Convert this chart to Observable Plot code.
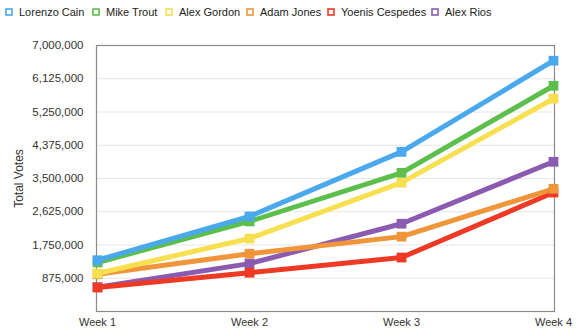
<!DOCTYPE html>
<html><head><meta charset="utf-8">
<script src="https://cdn.jsdelivr.net/npm/d3@7"></script>
<script src="https://cdn.jsdelivr.net/npm/@observablehq/plot@0.6"></script>
<style>
body{margin:0;background:#fff;font-family:"Liberation Sans",Arial,Helvetica,sans-serif;}
#legend{position:relative;height:24px;font-size:11px;color:#222;}
#legend .item{position:absolute;top:0;height:24px;display:flex;align-items:center;white-space:nowrap;}
#legend svg{margin-right:6px;}
</style></head><body>
<div id="legend"></div>
<div id="chart"></div>
<script>
const weeks = ["Week 1","Week 2","Week 3","Week 4"];
const players = ["Lorenzo Cain","Mike Trout","Alex Gordon","Adam Jones","Yoenis Cespedes","Alex Rios"];
const colors = ["#4aa8ec","#5cbf4b","#f7df4f","#f0953a","#ee3a24","#8a5bb0"];
const lorenzoCain = [1350000,2500000,4200000,6600000];
const mikeTrout = [1290000,2370000,3650000,5940000];
const alexGordon = [1000000,1920000,3390000,5600000];
const adamJones = [980000,1520000,1970000,3230000];
const yoenisCespedes = [630000,1020000,1420000,3130000];
const alexRios = [640000,1260000,2310000,3940000];
const yTicks = [875000,1750000,2625000,3500000,4375000,5250000,6125000,7000000];

const series = [lorenzoCain,mikeTrout,alexGordon,adamJones,yoenisCespedes,alexRios];
const data = [];
// draw in reverse legend order so Lorenzo Cain is on top
for (let s = series.length - 1; s >= 0; s--) {
  weeks.forEach((w, i) => data.push({player: players[s], week: w, votes: series[s][i]}));
}

// legend layout (pixel offsets of each legend entry)
const legendLeft = [5, 92, 165, 246, 327, 431];
const legend = document.getElementById("legend");
players.forEach((p, i) => {
  const it = document.createElement("div"); it.className = "item";
  it.style.left = legendLeft[i] + "px";
  it.innerHTML = `<svg width="8" height="8"><rect x="1" y="1" width="6" height="6" fill="white" stroke="${colors[i]}" stroke-width="1.6"/></svg>`;
  const t = document.createElement("span"); t.textContent = p;
  it.appendChild(t); legend.appendChild(it);
});

const chart = Plot.plot({
  width: 580, height: 311,
  marginTop: 21, marginBottom: 24, marginLeft: 96, marginRight: 26,
  style: {fontFamily: '"Liberation Sans",Arial,Helvetica,sans-serif', fontSize: "11px", color: "#333"},
  x: {type: "point", domain: weeks, padding: 0, label: null, tickSize: 0, tickPadding: 7},
  y: {domain: [0, 7000000]},
  color: {domain: players, range: colors},
  marks: [
    Plot.gridY(yTicks, {stroke: "#e6e6e6", strokeOpacity: 1}),
    Plot.frame({stroke: "#8a8a8a", strokeWidth: 1.2}),
    Plot.axisY({ticks: yTicks, tickFormat: d3.format(","), tickSize: 0, tickPadding: 13, fontSize: 11.5,
      label: "Total Votes", labelAnchor: "center", labelArrow: "none", labelOffset: 82}),
    Plot.line(data, {x: "week", y: "votes", z: "player", stroke: "player", strokeWidth: 5, strokeLinejoin: "round"}),
    Plot.dot(data, {x: "week", y: "votes", fill: "player", symbol: "square", r: 5.5})
  ]
});
chart.querySelectorAll('[aria-label="y-axis label"] text').forEach(t => t.style.fontSize = "12px");
document.getElementById("chart").appendChild(chart);
</script>
</body></html>
